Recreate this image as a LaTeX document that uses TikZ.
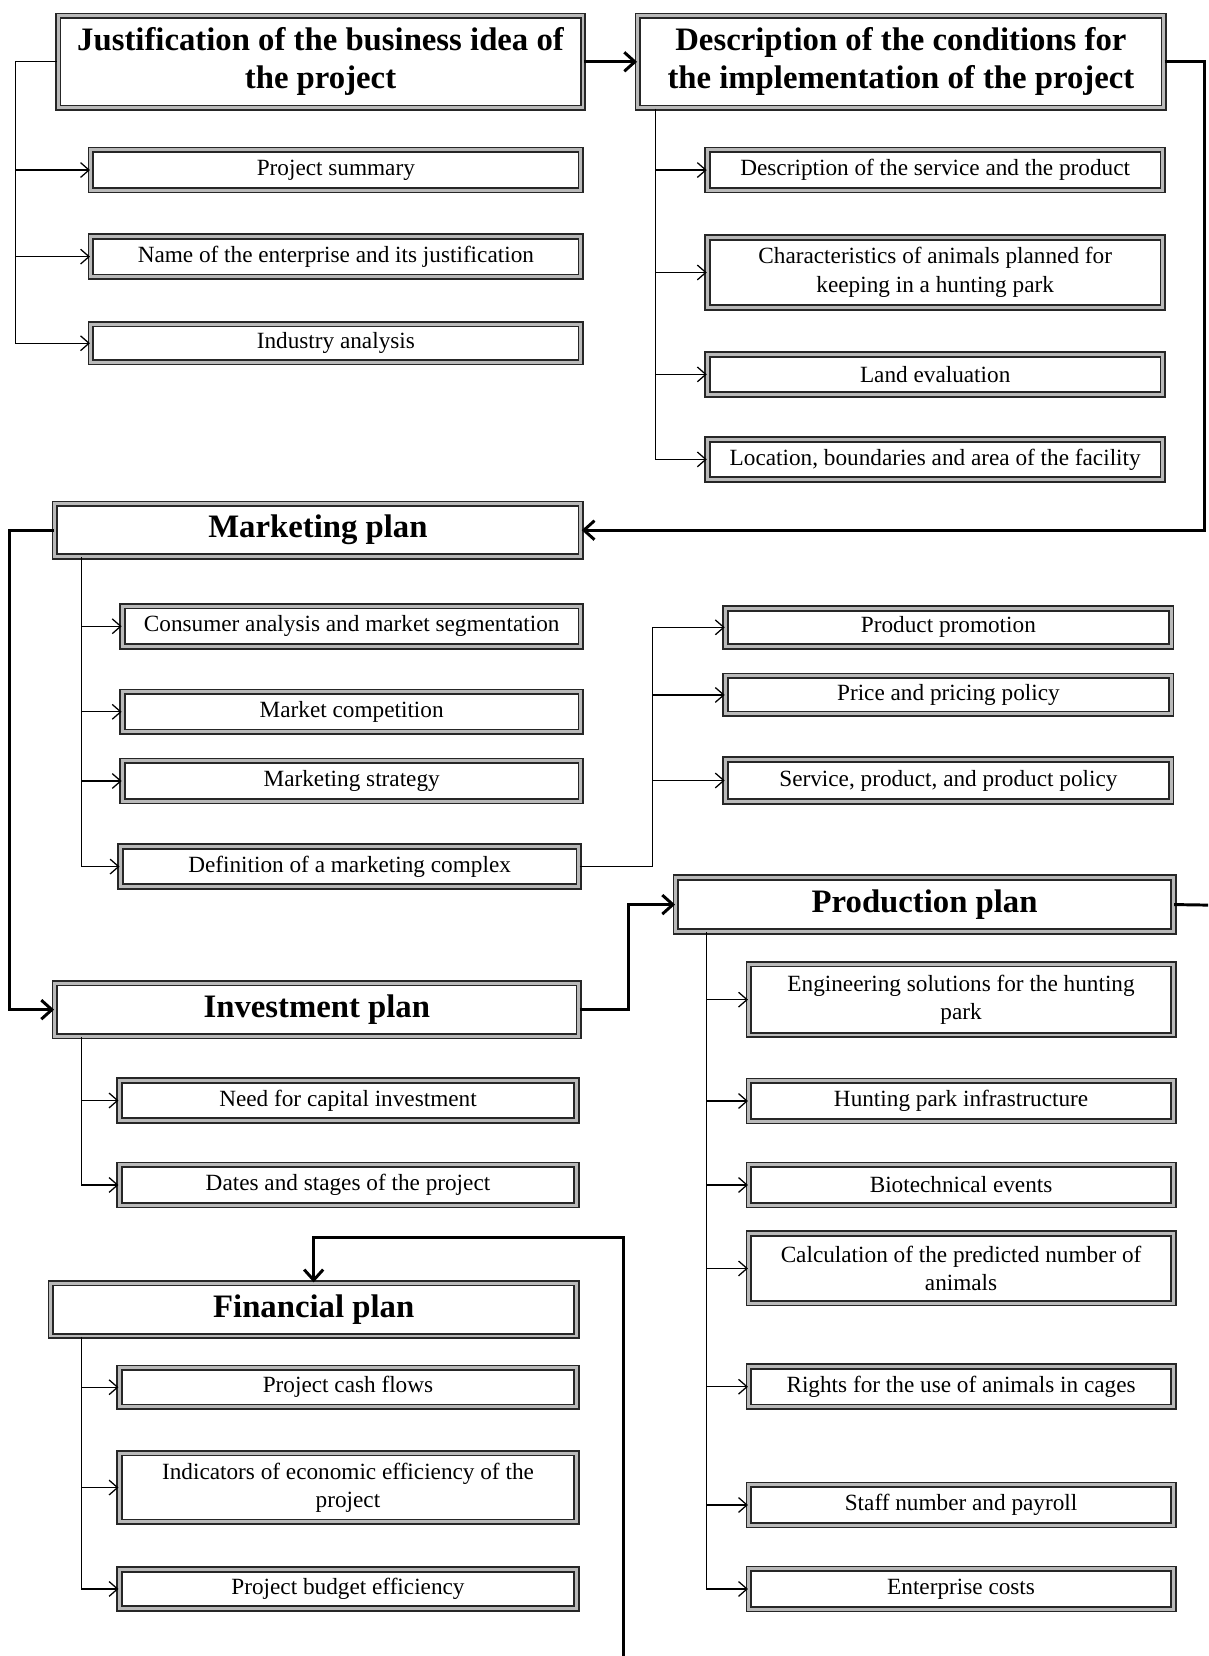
\documentclass[tikz,border=0pt]{standalone}
\usepackage{fontspec}
\setmainfont{Liberation Serif}
\usetikzlibrary{arrows.meta}

\newcommand{\headfont}{\bfseries\fontsize{15.5}{18}\selectfont}
\newcommand{\subfont}{\fontsize{11}{13.5}\selectfont}

\tikzset{
    head/.style={draw=black!85, double=gray!55, double distance=1.4pt, line width=0.8pt,
        fill=white, align=center, inner sep=0pt, font=\headfont},
    sub/.style={head, font=\subfont},
    flow/.style={line width=1.4pt, -{Straight Barb[length=5pt,width=9pt]}},
    link/.style={line width=1.4pt},
    branch/.style={line width=0.6pt, -{Straight Barb[length=4pt,width=7pt]}}
}

\begin{document}
\begin{tikzpicture}[x=0.5pt, y=-0.5pt]
    \useasboundingbox (0,0) rectangle (1144,1568);

    % x of the trunk lines
    \coordinate (jx) at (15,0);
    \coordinate (dx) at (621,0);
    \coordinate (mx) at (77,0);
    \coordinate (cx) at (618,0);
    \coordinate (px) at (669,0);

    % main blocks
    \node[head, minimum width=248.5pt, minimum height=43.5pt] (just) at (303.5,58.5)
        {Justification of the business idea of\\the project};
    \node[head, minimum width=249pt, minimum height=43.5pt] (desc) at (853,58.5)
        {Description of the conditions for\\the implementation of the project};
    \node[head, minimum width=249pt, minimum height=25pt] (mkt) at (301,502) {Marketing plan};
    \node[head, minimum width=248pt, minimum height=25pt] (inv) at (300,956) {Investment plan};
    \node[head, minimum width=249pt, minimum height=25pt] (fin) at (297,1240) {Financial plan};
    \node[head, minimum width=235.5pt, minimum height=25.5pt] (prod) at (875.5,856.5) {Production plan};

    % justification
    \begin{scope}[every node/.style={sub, minimum width=232pt, minimum height=19pt}]
        \node (sum) at (318,161) {Project summary};
        \node (name) at (318,243) {Name of the enterprise and its justification};
        \node[minimum height=18pt] (ind) at (318,325) {Industry analysis};
    \end{scope}

    % conditions
    \begin{scope}[every node/.style={sub, minimum width=215.5pt, minimum height=19pt}]
        \node (serv) at (885.5,161) {Description of the service and the product};
        \node[minimum height=33pt] (char) at (885.5,258)
            {Characteristics of animals planned for\\keeping in a hunting park};
        \node (land) at (885.5,354.5) {Land evaluation};
        \node (loc) at (885.5,435) {Location, boundaries and area of the facility};
    \end{scope}

    % marketing
    \begin{scope}[every node/.style={sub, minimum width=217pt, minimum height=19pt}]
        \node (cons) at (333,593) {Consumer analysis and market segmentation};
        \node (comp) at (333,674) {Market competition};
        \node (strat) at (333,739.5) {Marketing strategy};
        \node (cplx) at (331,820.5) {Definition of a marketing complex};
    \end{scope}
    \begin{scope}[every node/.style={sub, minimum width=211pt, minimum height=18pt}]
        \node (promo) at (898,594) {Product promotion};
        \node (price) at (898,658) {Price and pricing policy};
        \node[minimum height=20pt] (servp) at (898,739) {Service, product, and product policy};
    \end{scope}

    % investment
    \begin{scope}[every node/.style={sub, minimum width=216.5pt, minimum height=19pt}]
        \node (need) at (329.5,1042) {Need for capital investment};
        \node (dates) at (329.5,1122) {Dates and stages of the project};
    \end{scope}

    % financial
    \begin{scope}[every node/.style={sub, minimum width=216.5pt, minimum height=18.5pt}]
        \node (cash) at (329.5,1313.5) {Project cash flows};
        \node[minimum height=32.5pt] (indic) at (329.5,1408.5)
            {Indicators of economic efficiency of the\\project};
        \node (budg) at (329.5,1504.5) {Project budget efficiency};
    \end{scope}

    % production
    \begin{scope}[every node/.style={sub, minimum width=201pt, minimum height=19pt}]
        \node[minimum height=33.5pt] (eng) at (910,946.5)
            {Engineering solutions for the hunting\\park};
        \node (infr) at (910,1042.5) {Hunting park infrastructure};
        \node (bio) at (910,1122) {Biotechnical events};
        \node[minimum height=33pt] (calc) at (910,1201)
            {Calculation of the predicted number of\\animals};
        \node (rights) at (910,1313) {Rights for the use of animals in cages};
        \node (staff) at (910,1425) {Staff number and payroll};
        \node (costs) at (910,1504.5) {Enterprise costs};
    \end{scope}

    % sequence of the plans
    \draw[flow] (just.east) -- (desc.west);
    \draw[flow] (desc.east) -- ++(38,0) |- (mkt.east);
    \draw[flow] (mkt.west) -- ++(-42,0) |- (inv.west);
    \draw[flow] (inv.east) -- ++(46,0) |- (prod.west);
    \coordinate (pedge) at (1144,857);
    \draw[link] (prod.east) -- (pedge);
    \coordinate (fedge) at (590,1568);
    \coordinate (fturn) at (590,1172);
    \draw[flow] (fedge) -- (fturn) -| (fin.north);

    % branches
    \draw[branch] (just.west) -- (just.west -| jx) |- (ind.west);
    \foreach \n in {sum,name}
        \draw[branch] (\n.west -| jx) -- (\n.west);

    \draw[branch] (desc.south -| dx) |- (loc.west);
    \foreach \n in {serv,char,land}
        \draw[branch] (\n.west -| dx) -- (\n.west);

    \draw[branch] (mkt.south -| mx) |- (cplx.west);
    \foreach \n in {cons,comp,strat}
        \draw[branch] (\n.west -| mx) -- (\n.west);

    \draw[branch] (cplx.east) -| (cx |- promo.west) -- (promo.west);
    \foreach \n in {price,servp}
        \draw[branch] (\n.west -| cx) -- (\n.west);

    \draw[branch] (inv.south -| mx) |- (dates.west);
    \draw[branch] (need.west -| mx) -- (need.west);

    \draw[branch] (fin.south -| mx) |- (budg.west);
    \foreach \n in {cash,indic}
        \draw[branch] (\n.west -| mx) -- (\n.west);

    \draw[branch] (prod.south -| px) |- (costs.west);
    \foreach \n in {eng,infr,bio,calc,rights,staff}
        \draw[branch] (\n.west -| px) -- (\n.west);
\end{tikzpicture}
\end{document}
